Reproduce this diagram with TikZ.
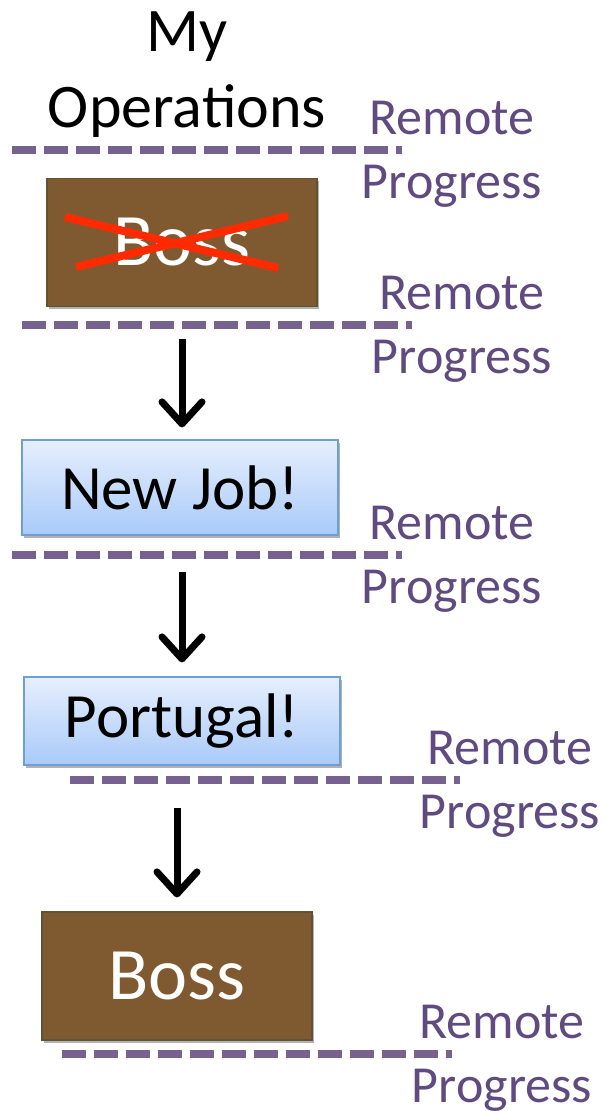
\documentclass[tikz,border=0pt]{standalone}
\usepackage{fontspec}
\setmainfont{Carlito}
\usetikzlibrary{arrows.meta,shadows,calc}

\definecolor{bossfill}{HTML}{7F5A30}
\definecolor{bossedge}{HTML}{5E5434}
\definecolor{jobtop}{HTML}{E6EFFD}
\definecolor{jobbottom}{HTML}{A9CAF9}
\definecolor{jobedge}{HTML}{6C9FD6}
\definecolor{remotetext}{HTML}{5F4B80}
\definecolor{remotebar}{HTML}{77628F}
\definecolor{crossred}{HTML}{FF2A00}

\tikzset{
    boxshadow/.style={drop shadow={shadow xshift=1pt, shadow yshift=-1.5pt, opacity=0.3, fill=black}},
    bossbox/.style={draw=bossedge, line width=0.6pt, fill=bossfill, text=white,
        minimum width=135pt, minimum height=64pt, boxshadow,
        font=\fontsize{37}{44}\selectfont},
    jobbox/.style={draw=jobedge, line width=0.6pt, top color=jobtop, bottom color=jobbottom,
        minimum width=158pt, boxshadow, font=\fontsize{31.5}{38}\selectfont},
    bar/.style={draw=remotebar, line width=4pt, dash pattern=on 12pt off 4pt},
    remote/.style={text=remotetext, align=center, font=\fontsize{26}{32}\selectfont},
    flow/.style={line width=3.5pt, -{Straight Barb[length=11pt, width=20pt, line join=round, line cap=round]}},
    cross/.style={draw=crossred, line width=4pt}
}

\begin{document}
\begin{tikzpicture}[x=0.5pt, y=-0.5pt]
% Variables: 1 := left end of the bar, 2 := ID.
\def\remotebar(#1)#2{
    \draw[bar] (#1) coordinate (#2 L) -- ++(390,0) coordinate (#2 R);
    \node[remote] (#2 label) at ($ (#2 R) + (50,4) $) {Remote\\Progress};
}
\useasboundingbox (0,0) rectangle (604,1111);

\node[align=center, font=\fontsize{31}{38}\selectfont] (title) at (187,75) {My\\Operations};

\node[bossbox] (boss1) at (182,242.5) {Boss};
\draw[cross] ($ (boss1.center) + (-117,-25.5) $) -- ($ (boss1.center) + (96,25.5) $);
\draw[cross] ($ (boss1.center) + (-106,24.5) $) -- ($ (boss1.center) + (106,-26.5) $);

\node[jobbox, minimum height=47.5pt] (newjob) at (180,487.5) {New Job!};
\node[jobbox, minimum height=44pt] (portugal) at (182,721) {Portugal!};
\node[bossbox] (boss2) at (177,976) {Boss};

\remotebar(12,150){bar1}
\remotebar(22,325){bar2}
\remotebar(12,555){bar3}
\remotebar(70,780){bar4}
\remotebar(62,1054){bar5}

\draw[flow, shorten <=16pt, shorten >=6pt] (boss1.south) -- (boss1.south |- newjob.north);
\draw[flow, shorten <=18pt, shorten >=7pt] (boss1.south |- newjob.south) -- (boss1.south |- portugal.north);
\draw[flow, shorten <=21pt, shorten >=7pt] (boss2.north |- portugal.south) -- (boss2.north);
\end{tikzpicture}
\end{document}
